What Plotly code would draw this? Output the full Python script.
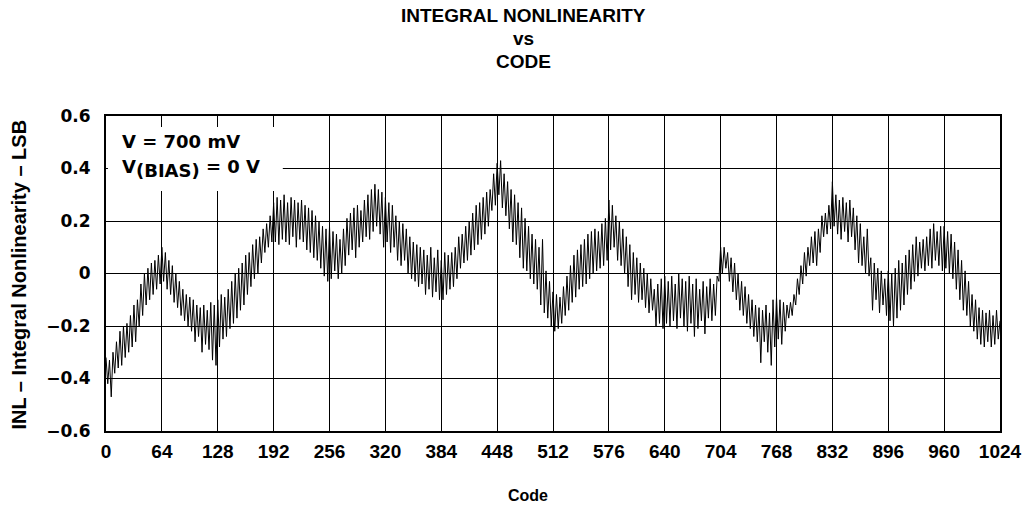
import plotly.graph_objects as go

# INL readings, one value every 2 codes, grouped by 64-code block
inl_000 = [-0.32, -0.42, -0.33, -0.47, -0.30, -0.38, -0.26, -0.36, -0.22, -0.35, -0.20, -0.32, -0.19, -0.30, -0.16, -0.28,
           -0.12, -0.26, -0.10, -0.20, -0.04, -0.16, 0.00, -0.12, 0.02, -0.10, 0.04, -0.08, 0.05, -0.06, 0.07, -0.04]
inl_064 = [0.10, -0.03, 0.08, -0.06, 0.05, -0.08, 0.03, -0.11, 0.00, -0.13, -0.03, -0.16, -0.06, -0.18, -0.08, -0.20,
           -0.09, -0.22, -0.10, -0.26, -0.12, -0.24, -0.13, -0.30, -0.12, -0.27, -0.14, -0.29, -0.11, -0.33, -0.12, -0.35]
inl_128 = [-0.10, -0.28, -0.08, -0.25, -0.09, -0.24, -0.06, -0.21, -0.03, -0.19, 0.00, -0.17, 0.02, -0.14, 0.04, -0.12,
           0.07, -0.08, 0.08, -0.05, 0.11, -0.02, 0.13, 0.00, 0.14, 0.04, 0.17, 0.08, 0.19, 0.10, 0.22, 0.12]
inl_192 = [0.27, 0.12, 0.29, 0.11, 0.28, 0.13, 0.30, 0.12, 0.27, 0.11, 0.29, 0.14, 0.28, 0.10, 0.27, 0.13,
           0.28, 0.12, 0.26, 0.09, 0.25, 0.08, 0.24, 0.06, 0.22, 0.05, 0.20, 0.02, 0.18, -0.01, 0.17, -0.03]
inl_256 = [0.18, -0.02, 0.16, 0.01, 0.15, -0.02, 0.13, 0.00, 0.17, 0.03, 0.21, 0.07, 0.23, 0.09, 0.25, 0.06,
           0.26, 0.10, 0.24, 0.12, 0.28, 0.14, 0.30, 0.13, 0.32, 0.16, 0.34, 0.18, 0.32, 0.15, 0.31, 0.10]
inl_320 = [0.29, 0.12, 0.27, 0.08, 0.26, 0.10, 0.22, 0.05, 0.20, 0.03, 0.19, 0.05, 0.17, 0.00, 0.14, -0.02,
           0.12, -0.03, 0.11, -0.05, 0.10, -0.04, 0.09, -0.08, 0.07, -0.06, 0.10, -0.09, 0.06, -0.07, 0.09, -0.10]
inl_384 = [0.05, -0.10, 0.08, -0.08, 0.07, -0.06, 0.08, -0.05, 0.10, -0.02, 0.14, 0.02, 0.15, 0.04, 0.18, 0.05,
           0.20, 0.07, 0.23, 0.09, 0.26, 0.11, 0.27, 0.13, 0.29, 0.15, 0.31, 0.18, 0.32, 0.24, 0.38, 0.26]
inl_448 = [0.42, 0.30, 0.43, 0.25, 0.38, 0.22, 0.35, 0.17, 0.32, 0.12, 0.30, 0.11, 0.27, 0.06, 0.25, 0.02,
           0.21, 0.01, 0.18, -0.02, 0.15, -0.04, 0.13, -0.06, 0.10, -0.12, 0.13, -0.15, 0.01, -0.17, -0.03, -0.20]
inl_512 = [-0.07, -0.22, -0.08, -0.21, -0.09, -0.19, -0.05, -0.16, -0.01, -0.14, 0.03, -0.11, 0.07, -0.09, 0.09, -0.06,
           0.11, -0.05, 0.13, -0.04, 0.15, -0.02, 0.16, 0.00, 0.17, 0.01, 0.16, 0.02, 0.19, 0.03, 0.21, 0.05]
inl_576 = [0.28, 0.09, 0.26, 0.10, 0.22, 0.05, 0.20, 0.03, 0.17, 0.00, 0.14, -0.05, 0.11, -0.10, 0.08, -0.08,
           0.06, -0.11, 0.04, -0.10, 0.02, -0.13, 0.00, -0.15, -0.02, -0.14, -0.06, -0.20, -0.04, -0.19, -0.02, -0.21]
inl_640 = [-0.01, -0.19, -0.03, -0.20, -0.01, -0.18, -0.04, -0.21, 0.00, -0.17, -0.02, -0.20, -0.03, -0.22, -0.01, -0.19,
           -0.04, -0.24, -0.02, -0.21, -0.06, -0.18, -0.03, -0.23, -0.05, -0.17, -0.02, -0.18, -0.04, -0.16, -0.01, -0.03]
inl_704 = [0.10, 0.00, 0.10, 0.02, 0.08, -0.03, 0.06, -0.07, 0.04, -0.10, 0.00, -0.14, -0.03, -0.16, -0.05, -0.19,
           -0.08, -0.21, -0.10, -0.24, -0.12, -0.26, -0.13, -0.34, -0.14, -0.26, -0.12, -0.30, -0.15, -0.35, -0.10, -0.28]
inl_768 = [-0.09, -0.25, -0.10, -0.27, -0.11, -0.22, -0.12, -0.17, -0.11, -0.16, -0.08, -0.12, -0.02, -0.08, 0.03, -0.04,
           0.08, -0.01, 0.10, 0.03, 0.14, 0.04, 0.16, 0.03, 0.17, 0.08, 0.22, 0.14, 0.23, 0.15, 0.26, 0.17]
inl_832 = [0.35, 0.18, 0.30, 0.15, 0.28, 0.13, 0.29, 0.16, 0.27, 0.12, 0.28, 0.14, 0.25, 0.09, 0.22, 0.04,
           0.19, 0.03, 0.14, 0.00, 0.17, -0.01, 0.06, -0.14, 0.04, -0.10, 0.02, -0.15, 0.01, -0.12, -0.02, -0.16]
inl_896 = [0.01, -0.18, 0.00, -0.20, 0.02, -0.17, 0.05, -0.14, 0.04, -0.12, 0.07, -0.08, 0.09, -0.06, 0.11, -0.03,
           0.14, -0.01, 0.12, 0.02, 0.13, 0.01, 0.14, 0.03, 0.17, 0.02, 0.19, 0.05, 0.16, 0.03, 0.18, 0.01]
inl_960 = [0.18, 0.02, 0.16, 0.00, 0.15, -0.02, 0.12, -0.06, 0.09, -0.10, 0.05, -0.14, 0.01, -0.16, -0.03, -0.20,
           -0.08, -0.22, -0.10, -0.25, -0.13, -0.27, -0.14, -0.28, -0.15, -0.26, -0.14, -0.28, -0.16, -0.27, -0.14, -0.25,
           -0.18]

inl = (inl_000 + inl_064 + inl_128 + inl_192 + inl_256 + inl_320 + inl_384 + inl_448
       + inl_512 + inl_576 + inl_640 + inl_704 + inl_768 + inl_832 + inl_896 + inl_960)
codes = list(range(0, 1025, 2))

x_ticks = [0, 64, 128, 192, 256, 320, 384, 448, 512, 576, 640, 704, 768, 832, 896, 960, 1024]
y_ticks = [-0.6, -0.4, -0.2, 0, 0.2, 0.4, 0.6]
y_tick_text = ["\u22120.6", "\u22120.4", "\u22120.2", "0", "0.2", "0.4", "0.6"]
title_lines = ["INTEGRAL NONLINEARITY", "vs", "CODE"]
condition_lines = ["V = 700 mV",
                   "V<sub><span style='font-size:18px'>(BIAS)</span></sub> = 0 V"]

ARIAL = "Liberation Sans, Arial, sans-serif"
WIDE = "DejaVu Sans, Verdana, sans-serif"


def px_x(col):
    # plot area spans pixel columns 106..1006
    return (col - 106) / 900


def px_y(row):
    # plot area spans pixel rows 116..431
    return (431 - row) / 315


fig = go.Figure()
fig.add_trace(go.Scatter(x=codes, y=inl, mode="lines",
                         line=dict(color="black", width=1), showlegend=False))

fig.update_layout(
    width=1034, height=507,
    margin=dict(l=106, r=28, t=116, b=76),
    paper_bgcolor="white", plot_bgcolor="white",
    font=dict(family=ARIAL, color="black"),
)

fig.update_xaxes(range=[0, 1024], tickvals=x_ticks,
                 ticktext=[f"<b>{v}</b>" for v in x_ticks],
                 tickfont=dict(size=19, family=ARIAL), ticks="", ticklabelstandoff=2,
                 showgrid=True, gridcolor="black", gridwidth=1,
                 showline=True, linecolor="black", linewidth=2, mirror=True,
                 zeroline=False)
fig.update_yaxes(range=[-0.6, 0.6], tickvals=y_ticks,
                 ticktext=[f"<b>{t}</b>" for t in y_tick_text],
                 tickfont=dict(size=17, family=WIDE), ticks="", ticklabelstandoff=10,
                 showgrid=True, gridcolor="black", gridwidth=1,
                 showline=True, linecolor="black", linewidth=2, mirror=True,
                 zeroline=False)

for line, row in zip(title_lines, [15, 38.5, 62]):
    fig.add_annotation(xref="paper", yref="paper", x=px_x(526), y=px_y(row),
                       xanchor="center", yanchor="middle", showarrow=False,
                       text=f"<b>{line}</b>", font=dict(size=19, family=ARIAL))

fig.add_annotation(xref="paper", yref="paper", x=px_x(531), y=px_y(495),
                   xanchor="center", yanchor="middle", showarrow=False,
                   text="<b>Code</b>", font=dict(size=16, family=ARIAL))

fig.add_annotation(xref="paper", yref="paper", x=px_x(18), y=px_y(275),
                   xanchor="center", yanchor="middle", showarrow=False, textangle=-90,
                   text="<b>INL \u2013 Integral Nonlinearity \u2013 LSB</b>",
                   font=dict(size=20, family=ARIAL))

# white panel behind the condition text, hiding the grid there
fig.add_shape(type="rect", xref="paper", yref="paper", layer="above",
              x0=px_x(108), x1=px_x(284), y0=px_y(191), y1=px_y(127),
              fillcolor="white", line=dict(width=0))

for line, row in zip(condition_lines, [130, 155]):
    fig.add_annotation(xref="paper", yref="paper", x=px_x(121), y=px_y(row),
                       xanchor="left", yanchor="top", align="left",
                       showarrow=False, borderpad=0,
                       text=f"<b>{line}</b>", font=dict(size=18, family=WIDE))

fig.write_html("out.html")
